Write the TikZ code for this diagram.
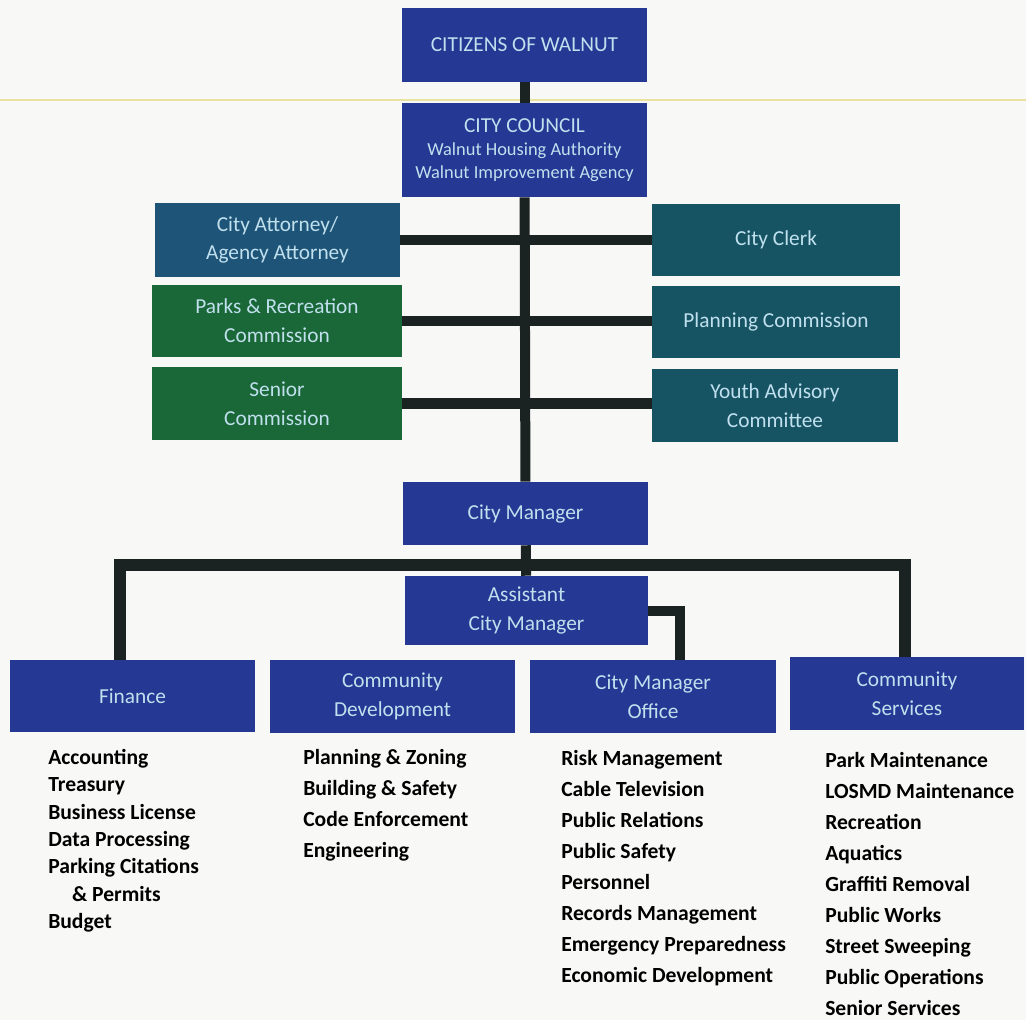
\documentclass[tikz,border=0pt]{standalone}
\usepackage{fontspec}
\setmainfont{Carlito}
\usepackage{xcolor}
\usepackage{tikz}
\usetikzlibrary{calc}

\definecolor{deptblue}{RGB}{36,56,148}
\definecolor{legalblue}{RGB}{30,84,120}
\definecolor{commteal}{RGB}{22,84,100}
\definecolor{commgreen}{RGB}{26,104,56}
\definecolor{linkdark}{RGB}{26,34,34}
\definecolor{boxtext}{RGB}{192,224,238}
\definecolor{paper}{RGB}{248,248,246}

\begin{document}
\begin{tikzpicture}[x=0.75pt,y=0.75pt,yscale=-1,xscale=1,
  unitbox/.style n args={3}{fill=#3, text=boxtext, align=center, inner sep=2pt,
    minimum width=#1*0.75pt, minimum height=#2*0.75pt, font=\fontsize{16}{21.5}\selectfont},
  link/.style={draw=linkdark, line width=7.5pt},
  duties/.style={anchor=north west, align=left, inner sep=0pt, text=black,
    font=\bfseries\fontsize{16.2}{23.25}\selectfont}]
% page
\fill[paper] (0,0) rectangle (1026,1020);
\useasboundingbox (0,0) rectangle (1026,1020);
\draw[color={rgb,255:red,234;green,226;blue,160}, line width=1pt] (0,100) -- (1026,100);

%Top boxes
\node[unitbox={245}{74}{deptblue}] (citizens) at (524.5,45) {CITIZENS OF WALNUT};
\node[unitbox={245}{94}{deptblue}, font=\fontsize{16}{19}\selectfont] (council) at (524.5,150) {CITY COUNCIL\\[-2pt]{\fontsize{13.8}{15}\selectfont Walnut Housing Authority}\\[-1.5pt]{\fontsize{13.8}{15}\selectfont Walnut Improvement Agency}};

%Commissions
\node[unitbox={245}{74}{legalblue}] (attorney) at (277.5,240) {City Attorney/\\Agency Attorney};
\node[unitbox={248}{72}{commteal}] (clerk) at (776,240) {City Clerk};
\node[unitbox={250}{72}{commgreen}] (parks) at (277,321) {Parks \& Recreation\\Commission};
\node[unitbox={248}{72}{commteal}] (planning) at (776,322) {Planning Commission};
\node[unitbox={250}{73}{commgreen}] (senior) at (277,403.5) {Senior\\Commission};
\node[unitbox={246}{73}{commteal}] (youth) at (775,405.5) {Youth Advisory\\Committee};

%Management
\node[unitbox={245}{63}{deptblue}] (manager) at (525.5,513.5) {City Manager};
\node[unitbox={243}{69}{deptblue}] (assistant) at (526.5,610.5) {Assistant\\City Manager};

%Departments
\node[unitbox={245}{72}{deptblue}] (finance) at (132.5,696) {Finance};
\node[unitbox={245}{73}{deptblue}] (commdev) at (392.5,696.5) {Community\\Development};
\node[unitbox={246}{73}{deptblue}] (cmoffice) at (653,696.5) {City Manager\\Office};
\node[unitbox={234}{73}{deptblue}] (commserv) at (907,693.5) {Community\\Services};
\coordinate (bar) at (524.5,565);

%Straight Lines
\draw[link] (citizens) -- (council);
\draw[link] (council) -- (manager);
\draw[link] (attorney) -- (clerk);
\draw[link] (parks.east) -- (parks.east -| planning.west);
\draw[link] (senior.east) -- (senior.east -| youth.west);
\draw[link] (manager) -- (assistant);
\draw[link, line width=9pt] ($(finance.north)+(-12.5,0)$) |- (bar) -| ($(commserv.north)+(-2,0)$);
\draw[link] ($(commdev.north)+(-72.5,0)$) -- ($(commdev.north)+(-72.5,0)$ |- bar);
\draw[link] (assistant.east) -| ($(cmoffice.north)+(27,0)$);

% Text Node
\node[duties, font=\bfseries\fontsize{16.2}{20.5}\selectfont] (financelist) at (48,749)
  {Accounting\\Treasury\\Business License\\Data Processing\\Parking Citations\\\hspace{1.1em}\& Permits\\Budget};
% Text Node
\node[duties] (commdevlist) at (303,749)
  {Planning \& Zoning\\Building \& Safety\\Code Enforcement\\Engineering};
% Text Node
\node[duties] (cmofficelist) at (561,750)
  {Risk Management\\Cable Television\\Public Relations\\Public Safety\\Personnel\\Records Management\\Emergency Preparedness\\Economic Development};
% Text Node
\node[duties] (commservlist) at (825,752)
  {Park Maintenance\\LOSMD Maintenance\\Recreation\\Aquatics\\Graffiti Removal\\Public Works\\Street Sweeping\\Public Operations\\Senior Services};

\end{tikzpicture}
\end{document}
